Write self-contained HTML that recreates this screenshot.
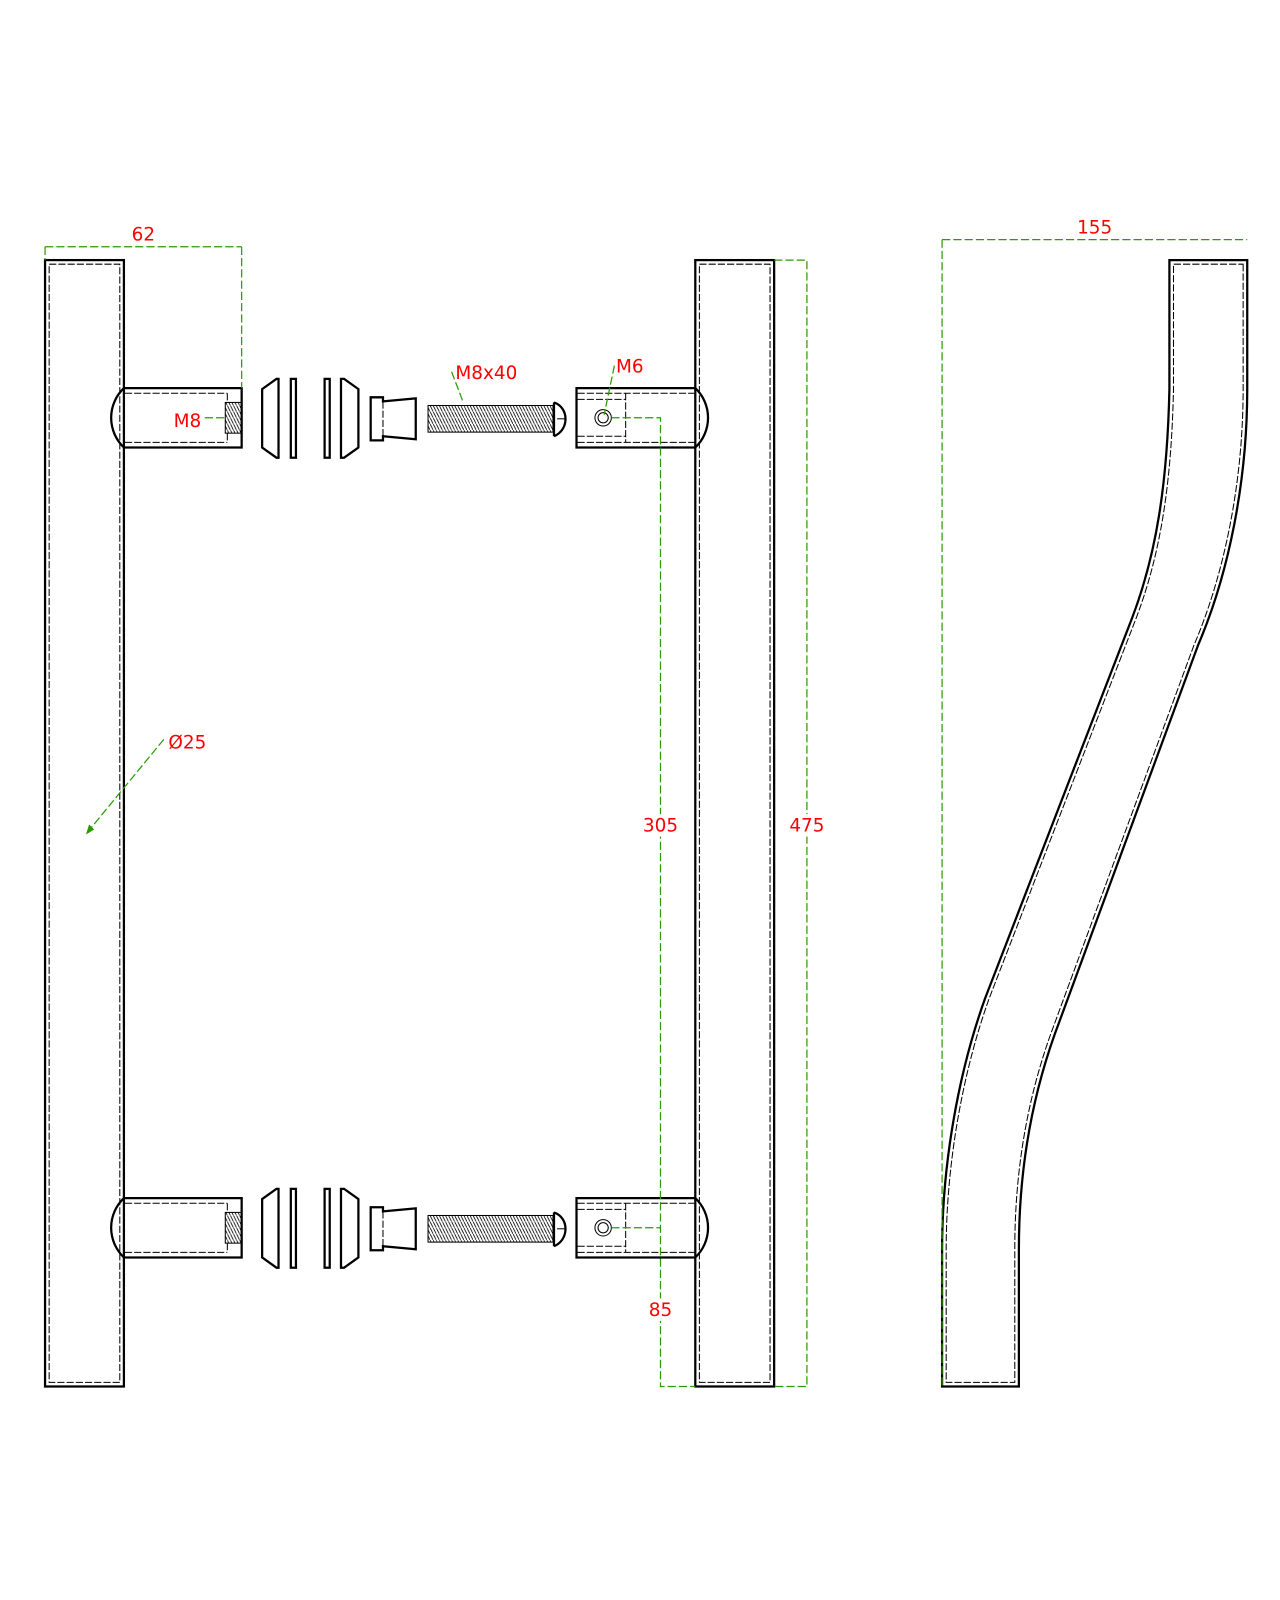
<!DOCTYPE html>
<html><head><meta charset="utf-8"><style>
html,body{margin:0;padding:0;background:#fff;}
svg{display:block;}
text{font-family:"DejaVu Sans","Liberation Sans",sans-serif;fill:#f00;font-size:18px;}
.o{fill:none;stroke:#000;stroke-width:2.2;}
.t{fill:none;stroke:#000;stroke-width:1;}
.d{fill:none;stroke:#000;stroke-width:1;stroke-dasharray:7 2;}
.g{fill:none;stroke:#2a9a00;stroke-width:1.2;stroke-dasharray:8 3;}
</style></head><body>
<svg width="1280" height="1600" viewBox="0 0 1250 1562.5" xmlns="http://www.w3.org/2000/svg">
<defs>
<pattern id="th" width="3" height="6" patternUnits="userSpaceOnUse"><path d="M0,0 L3,6" stroke="#000" stroke-width="0.8"/></pattern>
<g id="conn">
  <path class="o" d="M121,379 L236,379 L236,437 L121,437 A40,40 0 0 1 121,379 Z" fill="#fff"/>
  <path class="d" d="M122,384 L222,384 M122,432 L222,432"/>
  <path class="d" d="M222,384 L222,393 M222,423 L222,432"/>
  <rect x="220" y="393" width="16" height="30" fill="url(#th)" stroke="#000" stroke-width="1"/>
  <polygon class="o" points="256,380 270,370 272,370 272,447 270,447 256,437"/>
  <rect class="o" x="284" y="370" width="5" height="77"/>
  <rect class="o" x="317" y="370" width="5" height="77"/>
  <polygon class="o" points="350,380 336,370 333,370 333,447 336,447 350,437"/>
  <path class="o" d="M362,388 L374,388 L374,392 L406,389 L406,429 L374,426 L374,430 L362,430 Z"/>
  <path class="d" d="M374,392 L374,426"/>
  <rect x="418" y="396" width="122" height="26" fill="url(#th)" stroke="#000" stroke-width="1"/>
  <path class="o" d="M541,393 L541,426 M541,393 C556,398 556,420 541,426"/>
  <path class="t" d="M544,409 L553,409"/>
  <path class="o" d="M679,379 L563,379 L563,437 L679,437 A40,40 0 0 0 679,379 Z" fill="#fff"/>
  <path class="d" d="M564,384 L678,384 M564,432 L678,432 M564,390 L611,390 M564,426 L611,426 M611,384 L611,432"/>
  <circle class="t" cx="589" cy="408" r="8"/>
  <circle class="t" cx="589" cy="408" r="5"/>
</g>
</defs>

<rect class="o" x="44" y="254" width="77" height="1100"/>
<rect class="d" x="48" y="258" width="69" height="1092"/>
<rect class="o" x="679" y="254" width="77" height="1100"/>
<rect class="d" x="683" y="258" width="69" height="1092"/>

<use href="#conn"/>
<use href="#conn" y="791"/>

<path class="o" d="M1218,254 L1218,380 C1218,470 1200,560 1170,630 L1030,1010 C1005,1080 995,1150 995,1220 L995,1354 L920,1354 L920,1220 C920,1140 935,1050 962,975 L1105,605 C1130,540 1140,470 1142,380 L1142,254 Z"/>
<path class="d" d="M1214,258 L1214,380 C1214,470 1196,560 1166,630 L1026,1010 C1001,1080 991,1150 991,1220 L991,1350 L924,1350 L924,1220 C924,1140 939,1050 966,975 L1109,605 C1134,540 1144,470 1146,380 L1146,258 Z"/>

<path class="g" d="M44,241 L236,241 M236,241 L236,379 M44,241 L44,254"/>
<text x="140" y="235" text-anchor="middle">62</text>

<path class="g" d="M200,408 L220,408"/>
<text x="183" y="417" text-anchor="middle">M8</text>
<path class="g" d="M441,363 L452,392"/>
<text x="475" y="370" text-anchor="middle">M8x40</text>
<path class="g" d="M600,357 L590,405"/>
<text x="615" y="364" text-anchor="middle">M6</text>

<path class="g" d="M597,408 L645,408 L645,1354 L679,1354 M597,1199 L645,1199"/>
<rect x="624" y="795" width="42" height="22" fill="#fff"/>
<text x="645" y="812" text-anchor="middle">305</text>
<rect x="630" y="1268" width="30" height="22" fill="#fff"/>
<text x="645" y="1285" text-anchor="middle">85</text>

<path class="g" d="M756,254 L788,254 L788,1354 L756,1354"/>
<rect x="766" y="795" width="44" height="22" fill="#fff"/>
<text x="788" y="812" text-anchor="middle">475</text>

<path class="g" d="M160,722 L86,812"/>
<path d="M84,815 L87,805 L92,810 Z" fill="#2a9a00"/>
<text x="183" y="731" text-anchor="middle">Ø25</text>

<path class="g" d="M920,234 L1218,234 M920,234 L920,1354"/>
<text x="1069" y="228" text-anchor="middle">155</text>
</svg>
</body></html>
